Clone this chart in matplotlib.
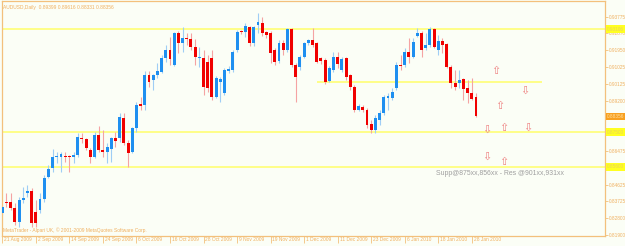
import numpy as np
import matplotlib.pyplot as plt
from matplotlib import transforms

# AUDUSD daily bars, 21 Aug 2009 .. 29 Jan 2010
opens = [0.8310, 0.8369, 0.8369, 0.8336, 0.8261, 0.8380, 0.8419, 0.8430, 0.8315, 0.8326,
         0.8386, 0.8505, 0.8554, 0.8614, 0.8614, 0.8620, 0.8620, 0.8614, 0.8625, 0.8718,
         0.8712, 0.8652, 0.8614, 0.8734, 0.8652, 0.8641, 0.8657, 0.8718, 0.8718, 0.8827,
         0.8691, 0.8641, 0.8772, 0.8902, 0.8897, 0.9060, 0.9033, 0.9060, 0.9077, 0.9153,
         0.9196, 0.9115, 0.9289, 0.9235, 0.9262, 0.9256, 0.9213, 0.9153, 0.9153, 0.9131,
         0.9153, 0.8940, 0.9022, 0.8962, 0.9082, 0.9088, 0.9196, 0.9300, 0.9294, 0.9322,
         0.9235, 0.9333, 0.9343, 0.9294, 0.9289, 0.9196, 0.9136, 0.9235, 0.9196, 0.9311,
         0.9115, 0.9104, 0.9158, 0.9235, 0.9251, 0.9235, 0.9153, 0.9142, 0.9028, 0.9088,
         0.9158, 0.9088, 0.9153, 0.9060, 0.8995, 0.8870, 0.8886, 0.8870, 0.8794, 0.8761,
         0.8816, 0.8854, 0.8935, 0.8935, 0.8990, 0.9115, 0.9115, 0.9185, 0.9158, 0.9273,
         0.9289, 0.9207, 0.9224, 0.9311, 0.9196, 0.9246, 0.9229, 0.9104, 0.9017, 0.9017,
         0.9039, 0.8990, 0.8962, 0.89399]
highs = [0.8353, 0.8419, 0.8419, 0.8364, 0.8397, 0.8451, 0.8462, 0.8446, 0.8380, 0.8419,
         0.8516, 0.8571, 0.8657, 0.8641, 0.8641, 0.8641, 0.8625, 0.8641, 0.8745, 0.8745,
         0.8718, 0.8663, 0.8750, 0.8783, 0.8761, 0.8691, 0.8723, 0.8750, 0.8854, 0.8854,
         0.8707, 0.8778, 0.8913, 0.8940, 0.9082, 0.9082, 0.9066, 0.9126, 0.9169, 0.9224,
         0.9267, 0.9294, 0.9300, 0.9322, 0.9289, 0.9289, 0.9256, 0.9213, 0.9196, 0.9169,
         0.9196, 0.9055, 0.9050, 0.9098, 0.9109, 0.9196, 0.9305, 0.9305, 0.9343, 0.9327,
         0.9327, 0.9398, 0.9376, 0.9300, 0.9300, 0.9207, 0.9251, 0.9251, 0.9316, 0.9316,
         0.9126, 0.9169, 0.9240, 0.9256, 0.9316, 0.9240, 0.9158, 0.9153, 0.9109, 0.9185,
         0.9185, 0.9158, 0.9158, 0.9066, 0.9006, 0.8902, 0.8897, 0.8881, 0.8816, 0.8843,
         0.8870, 0.8951, 0.8962, 0.8990, 0.9131, 0.9169, 0.9207, 0.9262, 0.9262, 0.9316,
         0.9300, 0.9289, 0.9322, 0.9316, 0.9278, 0.9262, 0.9235, 0.9115, 0.9088, 0.9088,
         0.9044, 0.9033, 0.9044, 0.89616]
lows = [0.8299, 0.8342, 0.8326, 0.8245, 0.8234, 0.8364, 0.8397, 0.8234, 0.8234, 0.8310,
        0.8369, 0.8500, 0.8533, 0.8581, 0.8533, 0.8587, 0.8533, 0.8581, 0.8614, 0.8691,
        0.8652, 0.8581, 0.8609, 0.8641, 0.8614, 0.8581, 0.8587, 0.8668, 0.8696, 0.8680,
        0.8560, 0.8636, 0.8750, 0.8870, 0.8870, 0.8995, 0.8979, 0.9044, 0.9071, 0.9131,
        0.9115, 0.9109, 0.9180, 0.9185, 0.9224, 0.9196, 0.9115, 0.9104, 0.8952, 0.8968,
        0.8924, 0.8935, 0.8913, 0.8952, 0.9071, 0.9077, 0.9185, 0.9283, 0.9267, 0.9218,
        0.9218, 0.9289, 0.9273, 0.9262, 0.9126, 0.9115, 0.9126, 0.9169, 0.9185, 0.9104,
        0.8913, 0.9088, 0.9153, 0.9224, 0.9213, 0.9126, 0.9120, 0.9011, 0.9022, 0.9077,
        0.9098, 0.9077, 0.9033, 0.8979, 0.8859, 0.8865, 0.8859, 0.8772, 0.8745, 0.8745,
        0.8788, 0.8843, 0.8870, 0.8924, 0.8979, 0.9088, 0.9104, 0.9126, 0.9153, 0.9267,
        0.9158, 0.9196, 0.9213, 0.9207, 0.9169, 0.9180, 0.9098, 0.8990, 0.8979, 0.8990,
        0.8924, 0.8908, 0.8924, 0.88331]
closes = [0.8342, 0.8364, 0.8336, 0.8261, 0.8380, 0.8391, 0.8430, 0.8256, 0.8256, 0.8386,
          0.8500, 0.8549, 0.8614, 0.8620, 0.8630, 0.8614, 0.8614, 0.8625, 0.8723, 0.8712,
          0.8663, 0.8614, 0.8734, 0.8652, 0.8641, 0.8668, 0.8718, 0.8701, 0.8832, 0.8691,
          0.8636, 0.8772, 0.8897, 0.8892, 0.9060, 0.9022, 0.9060, 0.9082, 0.9153, 0.9196,
          0.9147, 0.9289, 0.9235, 0.9262, 0.9256, 0.9213, 0.9158, 0.9158, 0.8995, 0.8990,
          0.8940, 0.9044, 0.9039, 0.9088, 0.9093, 0.9185, 0.9294, 0.9294, 0.9327, 0.9235,
          0.9322, 0.9349, 0.9289, 0.9278, 0.9180, 0.9131, 0.9235, 0.9196, 0.9311, 0.9115,
          0.9050, 0.9158, 0.9235, 0.9251, 0.9224, 0.9131, 0.9136, 0.9022, 0.9098, 0.9158,
          0.9120, 0.9147, 0.9050, 0.8995, 0.8870, 0.8892, 0.8870, 0.8788, 0.8761, 0.8827,
          0.8854, 0.8940, 0.8946, 0.8968, 0.9115, 0.9109, 0.9185, 0.9158, 0.9240, 0.9289,
          0.9196, 0.9224, 0.9311, 0.9213, 0.9246, 0.9224, 0.9104, 0.9017, 0.8995, 0.9033,
          0.8984, 0.8962, 0.8930, 0.88356]

date_labels = ["21 Aug 2009", "2 Sep 2009", "14 Sep 2009", "24 Sep 2009", "6 Oct 2009",
               "16 Oct 2009", "28 Oct 2009", "9 Nov 2009", "19 Nov 2009", "1 Dec 2009",
               "11 Dec 2009", "23 Dec 2009", "6 Jan 2010", "18 Jan 2010", "28 Jan 2010"]
bars_per_label = 8

# scale labels that stay visible (the rest sit under the highlighted levels)
price_ticks = [0.93775, 0.92870, 0.91950, 0.91025, 0.90125, 0.89200,
               0.86475, 0.84625, 0.83725, 0.82800, 0.81900]

# hand drawn levels
resistance = [0.93106]
support = [0.87500, 0.85600]
res_segment = (0.90250, 75.1, 128.7)   # price, from bar, to bar

# hollow arrows drawn to the right of the last bar
up_x = [117.8, 118.7, 119.7, 119.7]
up_y = [0.9082, 0.8892, 0.8772, 0.8587]
down_x = [124.7, 115.6, 125.4, 115.6]
down_y = [0.8973, 0.8761, 0.8772, 0.8614]

header = "AUDUSD,Daily  0.89399 0.89616 0.88331 0.88356"
footer = "MetaTrader - Alpari UK, \u00a9 2001-2009 MetaQuotes Software Corp."
note = "Supp@875xx,856xx - Res @901xx,931xx"

bg = "#FBFEF6"
frame = "#F3C07C"
txt = "#F0B060"
bull, bear = "#1E8FF0", "#F00000"
bull_wick, bear_wick = "#9FCDF5", "#F5A3A3"
level = "#FFFF88"

plt.rcParams['font.family'] = ['Liberation Sans', 'DejaVu Sans']

fig = plt.figure(figsize=(6.25, 2.46), dpi=100, facecolor=bg)
ax = fig.add_axes([2 / 625, 10 / 246, 603 / 625, 235 / 246], facecolor=bg)

n = len(opens)
x = np.arange(n)
o, h, l, c = map(np.array, (opens, highs, lows, closes))
up = c >= o

ax.vlines(x[up], l[up], h[up], color=bull_wick, lw=0.8, zorder=2)
ax.vlines(x[~up], l[~up], h[~up], color=bear_wick, lw=0.8, zorder=2)
body_h = np.maximum(np.abs(c - o), 0.00025)
ax.bar(x[up], body_h[up], bottom=np.minimum(o, c)[up], width=0.7,
       color=bull, linewidth=0, zorder=3)
ax.bar(x[~up], body_h[~up], bottom=np.minimum(o, c)[~up], width=0.7,
       color=bear, linewidth=0, zorder=3)

for p in resistance + support:
    ax.axhline(p, color=level, lw=1.4, zorder=1)
ax.hlines(res_segment[0], res_segment[1], res_segment[2], color=level, lw=1.4, zorder=1)

arrow_kw = dict(color="#EE8080", fontsize=8, ha="center", va="center",
                family="DejaVu Sans", zorder=4)
for xa, ya in zip(up_x, up_y):
    ax.text(xa, ya, "\u21e7", **arrow_kw)
for xa, ya in zip(down_x, down_y):
    ax.text(xa, ya, "\u21e9", **arrow_kw)

ax.set_xlim(-0.07, 143.77)
ax.set_ylim(0.81846, 0.94630)

for s in ax.spines.values():
    s.set_color(frame)
    s.set_linewidth(0.9)

# price scale on the right
ax.yaxis.tick_right()
ax.set_yticks(price_ticks)
ax.set_yticklabels([f"{p:.5f}" for p in price_ticks])
ax.tick_params(axis="y", length=2, width=0.6, color=frame, labelcolor=txt,
               labelsize=3.4, pad=1)

# date scale: tick marks with labels beside them
ax.set_xticks(range(0, n, bars_per_label))
ax.set_xticklabels([])
ax.tick_params(axis="x", length=5, width=0.6, color=frame, direction="out")
tx = transforms.blended_transform_factory(ax.transData, ax.transAxes)
for i, lab in enumerate(date_labels):
    ax.text(i * bars_per_label + 0.45, -0.006, lab, transform=tx, ha="left", va="top",
            fontsize=3.5, color=txt)

# highlighted price labels
ty = transforms.blended_transform_factory(ax.transAxes, ax.transData)
for p in resistance + support:
    ax.text(1.003, p, f"{p:.5f}", transform=ty, ha="left", va="center", fontsize=3.4,
            color="#E8D060", clip_on=False,
            bbox=dict(boxstyle="square,pad=0.25", fc="#FFFF20", ec="none"))
ax.text(1.003, closes[-1], f"{closes[-1]:.5f}", transform=ty, ha="left", va="center",
        fontsize=3.4, color="#FFE0A0", clip_on=False,
        bbox=dict(boxstyle="square,pad=0.25", fc="#F8A020", ec="none"))

ax.text(0.002, 0.985, header, transform=ax.transAxes, ha="left", va="top",
        fontsize=3.5, color=txt)
ax.text(0.002, 0.012, footer, transform=ax.transAxes, ha="left", va="bottom",
        fontsize=3.5, color=txt)
ax.text(103.5, 0.8522, note, ha="left", va="center", fontsize=4.95, color="#A0A0A0")

fig.savefig("out.png", dpi=100, facecolor=bg)
